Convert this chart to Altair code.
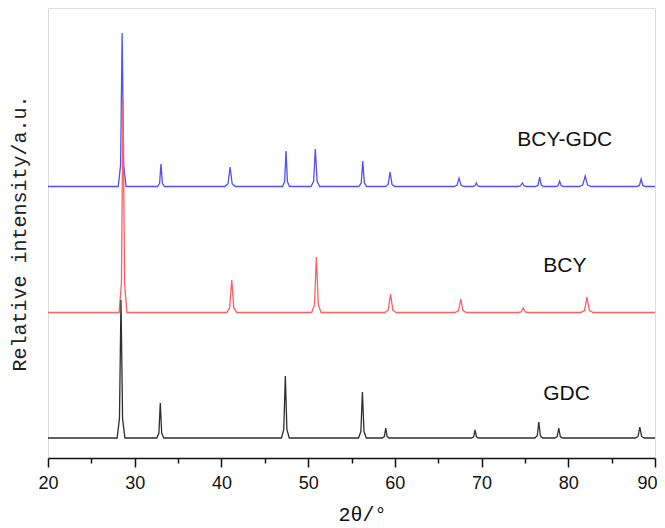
import altair as alt
import pandas as pd

# ---- data (2theta in degrees, intensity in arbitrary units) ----
series_names = ["BCY-GDC", "BCY", "GDC"]
series_colors = ["#5050f8", "#ff5f5f", "#2e2e2e"]

# baseline level of each offset trace
gdc_base = 20
bcy_base = 145.5
bcygdc_base = 271.5

# peak centres, peak tops and half base widths
gdc_pos = [28.42, 32.95, 47.37, 56.26, 58.95, 69.25, 76.6, 78.9, 88.25]
gdc_top = [158, 55, 82, 66, 30, 28, 36, 30, 31]
gdc_hw = [0.45, 0.4, 0.45, 0.45, 0.4, 0.4, 0.45, 0.45, 0.5]

bcy_pos = [28.65, 41.19, 50.95, 59.5, 67.6, 74.8, 82.15]
bcy_top = [358, 178, 201, 164, 159, 150, 161]
bcy_hw = [0.45, 0.6, 0.55, 0.65, 0.65, 0.6, 0.7]

bcygdc_pos = [28.55, 33.03, 41.0, 47.45, 50.83, 56.3, 59.45, 67.4, 69.4, 74.7, 76.7, 79.0, 81.95, 88.4]
bcygdc_top = [425, 294, 291, 307, 309, 297, 286, 280, 275, 275, 281, 277, 282, 279]
bcygdc_hw = [0.45, 0.4, 0.6, 0.4, 0.5, 0.45, 0.55, 0.6, 0.45, 0.55, 0.45, 0.45, 0.7, 0.5]

x_ticks = [20, 25, 30, 35, 40, 45, 50, 55, 60, 65, 70, 75, 80, 85, 90]

label_text = ["BCY-GDC", "BCY", "GDC"]
label_x = [79.6, 79.6, 79.8]
label_y = [318, 192, 64]


def trace(name, base, pos, top, hw):
    rows = [{"x": 20.0, "y": base, "s": name}]
    for c, t, w in zip(pos, top, hw):
        h = t - base
        rows += [
            {"x": c - w, "y": base, "s": name},
            {"x": c - w * 0.4, "y": base + h * 0.14, "s": name},
            {"x": c, "y": t, "s": name},
            {"x": c + w * 0.4, "y": base + h * 0.14, "s": name},
            {"x": c + w, "y": base, "s": name},
        ]
    rows.append({"x": 90.0, "y": base, "s": name})
    return rows


rows = []
rows += trace("BCY-GDC", bcygdc_base, bcygdc_pos, bcygdc_top, bcygdc_hw)
rows += trace("BCY", bcy_base, bcy_pos, bcy_top, bcy_hw)
rows += trace("GDC", gdc_base, gdc_pos, gdc_top, gdc_hw)
df = pd.DataFrame(rows)

xscale = alt.Scale(domain=[20, 90], nice=False, zero=False)
yscale = alt.Scale(domain=[0, 450], nice=False, zero=True)

lines = alt.Chart(df).mark_line(strokeWidth=1.3, strokeJoin="miter", clip=True).encode(
    x=alt.X("x:Q", scale=xscale,
            axis=alt.Axis(values=x_ticks, title="2θ/°", orient="bottom",
                          labelExpr="datum.value % 10 == 0 ? datum.label : ''",
                          labelAlign={"condition": {"test": "datum.value >= 90", "value": "right"}, "value": "center"},
                          labelOffset={"condition": {"test": "datum.value >= 90", "value": 2}, "value": 0},
                          tickSize={"condition": {"test": "datum.value % 10 != 0", "value": 5}, "value": 9},
                          tickWidth=1.5, tickColor="#111", domainColor="#111",
                          domainWidth=1.5, labelFont="Liberation Sans", labelFontSize=18,
                          labelColor="#111", labelPadding=7, labelFlush=False, grid=False,
                          titleFont="Liberation Mono", titleFontSize=20, titleFontWeight="normal",
                          titleColor="#111", titlePadding=12, titleX=314)),
    y=alt.Y("y:Q", scale=yscale,
            axis=alt.Axis(title="Relative intensity/a.u.", labels=False, ticks=False,
                          domain=False, grid=False, titleFont="Liberation Mono",
                          titleFontSize=20, titleFontWeight="normal", titleColor="#222",
                          titlePadding=19)),
    color=alt.Color("s:N", scale=alt.Scale(domain=series_names, range=series_colors), legend=None),
    detail="s:N",
    order=alt.Order("x:Q"),
)

lab_df = pd.DataFrame({"x": label_x, "y": label_y, "t": label_text})
labels = alt.Chart(lab_df).mark_text(font="Liberation Sans", fontSize=21, color="#111",
                                     align="center", baseline="middle").encode(
    x=alt.X("x:Q", scale=xscale),
    y=alt.Y("y:Q", scale=yscale),
    text="t:N",
)

chart = alt.layer(lines, labels).properties(
    width=607, height=450,
    autosize=alt.AutoSizeParams(type="none"),
    padding={"left": 40, "top": 0, "right": 2, "bottom": 70},
).configure_view(stroke="#111", strokeWidth=1.5).configure(background="white")

chart.save("out.html", embed_options={"renderer": "svg", "actions": False})
